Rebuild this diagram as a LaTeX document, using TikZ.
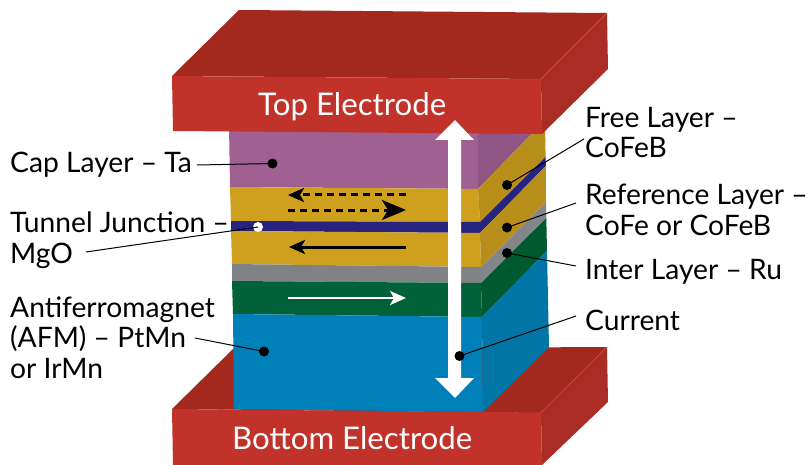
\documentclass[tikz,border=0pt]{standalone}
\usepackage{fontspec}
\setmainfont{Lato}
\usetikzlibrary{arrows.meta}
\definecolor{redfront}{HTML}{C1332A}
\definecolor{redtop}{HTML}{A3281E}
\definecolor{redside}{HTML}{AB2C24}
\definecolor{capf}{HTML}{A06092}
\definecolor{caps}{HTML}{8E5585}
\definecolor{goldf}{HTML}{CFA01E}
\definecolor{golds}{HTML}{B88E1A}
\definecolor{navyf}{HTML}{27247F}
\definecolor{grayf}{HTML}{808285}
\definecolor{grays}{HTML}{85868A}
\definecolor{greenf}{HTML}{00613A}
\definecolor{greens}{HTML}{005A30}
\definecolor{bluef}{HTML}{0080B8}
\definecolor{blues}{HTML}{0075A6}
\definecolor{seam}{HTML}{C9625A}
\tikzset{
  lab/.style={anchor=base west,inner sep=0pt,font=\fontsize{28.2}{30.5}\selectfont,align=left,text=black},
  elab/.style={anchor=base west,inner sep=0pt,font=\fontsize{31.2}{34}\selectfont,text=white},
  dotb/.style={circle,fill=black,inner sep=0pt,minimum size=10pt},
  dotw/.style={circle,fill=white,inner sep=0pt,minimum size=10pt},
  lead/.style={draw=black,line width=1pt},
  spin/.style={line width=3pt,-{Stealth[length=16pt,width=14pt,inset=4pt]}},
  spinbig/.style={line width=3pt,-{Stealth[length=24pt,width=20pt,inset=6pt]}},
  dashes/.style={dash pattern=on 7pt off 5pt},
  edgeline/.style={draw=seam,line width=0.4pt},
}
\begin{document}
\begin{tikzpicture}[x=1pt,y=-1pt]
\useasboundingbox (0,0) rectangle (808,465);
% bottom electrode
\fill[redtop] (172,409) -- (233,349) -- (607,347) -- (541,413) -- cycle;
\fill[redside] (541,412) -- (607,347) -- (608,402) -- (542,465) -- cycle;
\fill[redfront] (172,409) -- (541,412.5) -- (542,465) -- (173,465) -- cycle;
\draw[edgeline] (541,412.5) -- (607,347);
% stack front
\fill[capf] (229,125) -- (478,125) -- (478,189) -- (230,187) -- cycle;
\fill[goldf] (230,187) -- (478,189) -- (480,222) -- (231,221) -- cycle;
\fill[navyf] (231,221) -- (480,222) -- (480,233) -- (231,231) -- cycle;
\fill[goldf] (231,231) -- (480,233) -- (481,267) -- (232,264) -- cycle;
\fill[grayf] (232,264) -- (481,267) -- (481,283) -- (232,281) -- cycle;
\fill[greenf] (232,281) -- (481,283) -- (482,317) -- (233,314) -- cycle;
\fill[bluef] (233,314) -- (482,317) -- (483,412) -- (234,409) -- cycle;
% stack side
\fill[caps] (478,125) -- (540,125) -- (478,189) -- cycle;
\fill[golds] (478,189) -- (540,125) -- (545,125) -- (545.6,157) -- (480,222) -- cycle;
\fill[navyf] (480,222) -- (545.6,157) -- (545.8,166) -- (480,233) -- cycle;
\fill[golds] (480,233) -- (545.8,166) -- (546,202) -- (481,267) -- cycle;
\fill[grays] (481,267) -- (546,202) -- (546.3,218) -- (481,283) -- cycle;
\fill[greens] (481,283) -- (546.3,218) -- (547,251) -- (482,317) -- cycle;
\fill[blues] (482,317) -- (547,251) -- (549,347) -- (483,412) -- cycle;
% top electrode
\fill[redtop] (239,10) -- (607,13) -- (541,79) -- (172,76) -- cycle;
\fill[redside] (541,79) -- (607,13) -- (608,69) -- (542,134) -- cycle;
\fill[redfront] (172,76) -- (541,79) -- (542,134) -- (173,131) -- cycle;
\draw[edgeline] (541,79) -- (607,13);
\node[elab] (top) at (258,116) {Top Electrode};
\node[elab] (bottom) at (232,449) {Bottom Electrode};
% current arrow
\fill[white] (455,120) -- (474,140) -- (461,140) -- (461,378) -- (474,378) -- (455,398) -- (435,378) -- (448,378) -- (448,140) -- (435,140) -- cycle;
% spin arrows
\coordinate (a1) at (406,195); \coordinate (a2) at (288,195);
\coordinate (b1) at (288,210); \coordinate (b2) at (406,210);
\coordinate (c1) at (406,247); \coordinate (c2) at (289,247);
\coordinate (d1) at (288,298); \coordinate (d2) at (406,298);
\draw[spin,dashes,draw=black] (a1) -- (a2);
\draw[spinbig,dashes,draw=black] (b1) -- (b2);
\draw[spin,draw=black] (c1) -- (c2);
\draw[spin,draw=white,line width=2.4pt] (d1) -- (d2);
% labels
\node[lab] (cap) at (10,173) {Cap Layer – Ta};
\node[lab] (tunnel) at (10,263) {Tunnel Junction –\\MgO};
\node[lab] (afm) at (10,378) {Antiferromagnet\\(AFM) – PtMn\\or IrMn};
\node[lab] (free) at (585,158) {Free Layer –\\CoFeB};
\node[lab] (ref) at (585,235) {Reference Layer –\\CoFe or CoFeB};
\node[lab] (inter) at (585,279) {Inter Layer – Ru};
\node[lab] (cur) at (585,330) {Current};
% dots
\node[dotb] (dcap) at (272.5,163.5) {};
\node[dotw] (dtun) at (258,227) {};
\node[dotb] (dafm) at (264,351.5) {};
\node[dotb] (dfree) at (507,185) {};
\node[dotb] (dref) at (507,227.5) {};
\node[dotb] (dint) at (507,253) {};
\node[dotb] (dcur) at (459.5,356) {};
% leader ends
\coordinate (lcap) at (197,165);
\coordinate (ltun) at (86,252);
\coordinate (lafm) at (195,338);
\coordinate (lfree) at (584,139);
\coordinate (lref) at (576,203);
\coordinate (lint) at (576,266);
\coordinate (lcur) at (576,316);
\draw[lead] (lcap) -- (dcap.center);
\draw[lead] (ltun) -- (dtun.center);
\draw[lead] (lafm) -- (dafm.center);
\draw[lead] (lfree) -- (dfree.center);
\draw[lead] (lref) -- (dref.center);
\draw[lead] (lint) -- (dint.center);
\draw[lead] (lcur) -- (dcur.center);
\end{tikzpicture}
\end{document}
